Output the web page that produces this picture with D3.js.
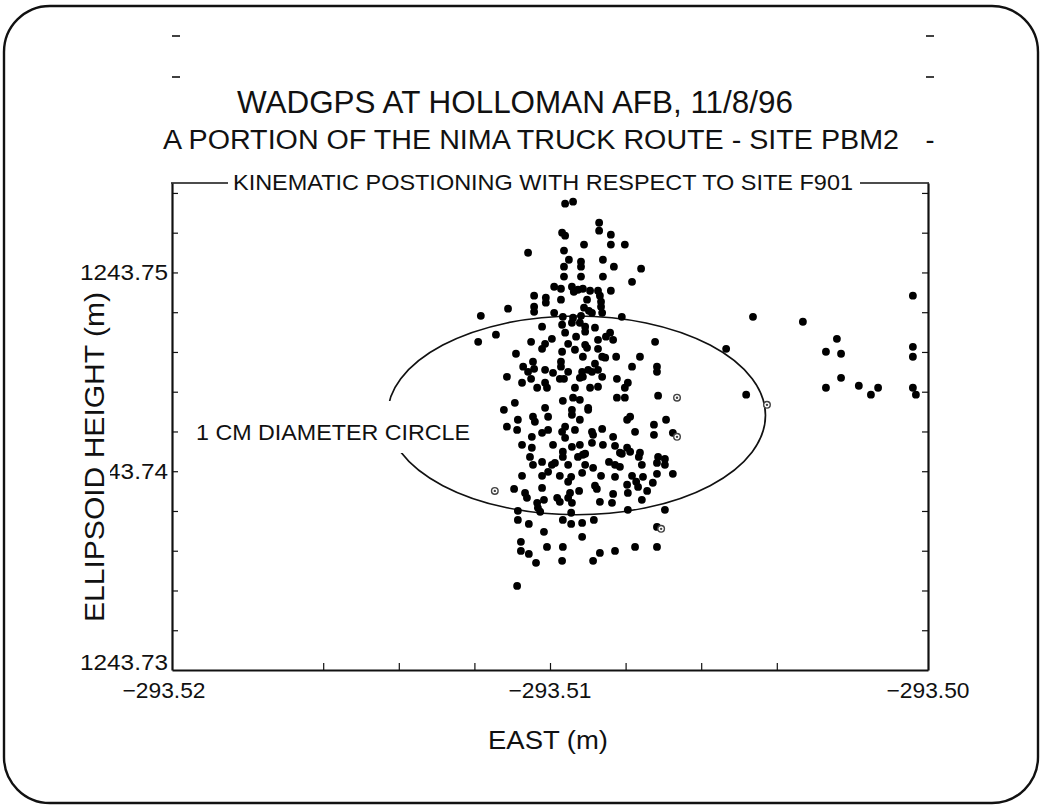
<!DOCTYPE html>
<html><head><meta charset="utf-8">
<script src="https://cdn.jsdelivr.net/npm/d3@7"></script>
<style>
body{margin:0;background:#fff}
svg{display:block}
text{font-family:"Liberation Sans Narrow","Liberation Sans",Arial,sans-serif;fill:#111}
</style>
</head><body>
<svg id="chart" width="1042" height="808"></svg>
<script>
const titleLines = [
  "WADGPS AT HOLLOMAN AFB, 11/8/96",
  "A PORTION OF THE NIMA TRUCK ROUTE - SITE PBM2",
  "KINEMATIC POSTIONING WITH RESPECT TO SITE F901"
];
const xTitle = "EAST (m)";
const yTitle = "ELLIPSOID HEIGHT (m)";
const circleLabel = "1 CM DIAMETER CIRCLE";
const xDomain = [-293.52, -293.50];
const yDomain = [1243.73, 1243.7545];
const xTicks = [-293.516, -293.514, -293.512, -293.510, -293.508, -293.506, -293.504];
const xTickLabels = [-293.52, -293.51, -293.50];
const yTicks = [1243.732, 1243.734, 1243.736, 1243.738, 1243.740, 1243.742, 1243.744, 1243.746, 1243.748, 1243.750, 1243.752, 1243.754];
const yTickLabels = [1243.73, 1243.74, 1243.75];
const circleCenter = [-293.5093, 1243.74281];
const circleDiameter = 0.01;

// [east (m), ellipsoid height (m)]
const points = [
[-293.50960,1243.75346],[-293.50939,1243.75356],[-293.50870,1243.75250],[-293.50870,1243.75210],
[-293.50968,1243.75200],[-293.50960,1243.75185],[-293.50839,1243.75190],[-293.50910,1243.75140],
[-293.50839,1243.75140],[-293.50802,1243.75140],[-293.51058,1243.75099],[-293.50963,1243.75110],
[-293.50950,1243.75064],[-293.50918,1243.75054],[-293.50918,1243.75029],[-293.50860,1243.75064],
[-293.50831,1243.75029],[-293.50759,1243.75019],[-293.50963,1243.75029],[-293.50963,1243.74979],
[-293.50918,1243.74979],[-293.50860,1243.74979],[-293.50783,1243.74953],[-293.50989,1243.74928],
[-293.50971,1243.74918],[-293.50942,1243.74928],[-293.50937,1243.74903],[-293.50926,1243.74913],
[-293.50913,1243.74918],[-293.50894,1243.74908],[-293.50873,1243.74908],[-293.50839,1243.74908],
[-293.51042,1243.74883],[-293.51011,1243.74873],[-293.51011,1243.74848],[-293.50971,1243.74863],
[-293.50902,1243.74863],[-293.50868,1243.74883],[-293.50865,1243.74853],[-293.51042,1243.74828],
[-293.51042,1243.74802],[-293.51111,1243.74818],[-293.50989,1243.74797],[-293.50910,1243.74823],
[-293.50897,1243.74807],[-293.50865,1243.74828],[-293.50862,1243.74797],[-293.50889,1243.74797],
[-293.51183,1243.74782],[-293.50810,1243.74777],[-293.50966,1243.74777],[-293.50939,1243.74772],
[-293.50918,1243.74782],
[-293.51143,1243.74687],[-293.51190,1243.74651],[-293.51021,1243.74727],[-293.50968,1243.74737],
[-293.50942,1243.74747],[-293.50921,1243.74747],[-293.51050,1243.74651],[-293.51013,1243.74641],
[-293.50995,1243.74666],[-293.51021,1243.74616],[-293.50960,1243.74697],[-293.50952,1243.74641],
[-293.50934,1243.74611],[-293.50968,1243.74601],[-293.50931,1243.74677],[-293.51090,1243.74591],
[-293.51071,1243.74526],[-293.51045,1243.74551],[-293.51058,1243.74500],[-293.51042,1243.74515],
[-293.51013,1243.74510],[-293.50992,1243.74495],[-293.50971,1243.74551],[-293.50971,1243.74526],
[-293.50952,1243.74500],[-293.50915,1243.74500],[-293.51114,1243.74475],[-293.51074,1243.74445],
[-293.51050,1243.74465],[-293.51034,1243.74420],[-293.51013,1243.74445],[-293.51008,1243.74420],
[-293.50974,1243.74465],[-293.50963,1243.74465],[-293.50934,1243.74420],[-293.50921,1243.74470],
[-293.51093,1243.74344],[-293.51122,1243.74309],[-293.50966,1243.74354],[-293.50939,1243.74370],
[-293.50921,1243.74359],[-293.51013,1243.74319],[-293.50942,1243.74309],[-293.50942,1243.74284],
[-293.51085,1243.74259],[-293.51114,1243.74224],[-293.51087,1243.74208],[-293.51045,1243.74274],
[-293.51040,1243.74249],[-293.51005,1243.74274],[-293.51005,1243.74208],[-293.51021,1243.74193],
[-293.50968,1243.74198],[-293.50960,1243.74224],[-293.50934,1243.74208],[-293.50921,1243.74259],
[-293.51048,1243.74173],[-293.51048,1243.74118],[-293.51074,1243.74133],[-293.50992,1243.74133],
[-293.50960,1243.74168],[-293.50942,1243.74123],[-293.50921,1243.74133],[-293.50966,1243.74098],
[-293.50899,1243.74309],[-293.50907,1243.74088],
[-293.50907,1243.74727],[-293.50907,1243.74702],[-293.50881,1243.74722],[-293.50873,1243.74661],
[-293.50852,1243.74677],[-293.50841,1243.74697],[-293.50833,1243.74661],[-293.50722,1243.74651],
[-293.50907,1243.74636],[-293.50902,1243.74621],[-293.50873,1243.74616],[-293.50913,1243.74576],
[-293.50862,1243.74576],[-293.50854,1243.74571],[-293.50881,1243.74541],[-293.50899,1243.74510],
[-293.50889,1243.74500],[-293.50873,1243.74510],[-293.50783,1243.74526],[-293.50762,1243.74576],
[-293.50717,1243.74526],[-293.50717,1243.74500],[-293.50913,1243.74475],[-293.50862,1243.74475],
[-293.50823,1243.74465],[-293.50794,1243.74445],[-293.50802,1243.74420],[-293.50894,1243.74420],
[-293.50873,1243.74425],[-293.50823,1243.74370],[-293.50802,1243.74370],[-293.50714,1243.74380],
[-293.50899,1243.74319],[-293.50788,1243.74274],[-293.50796,1243.74259],[-293.50693,1243.74259],
[-293.50889,1243.74198],[-293.50886,1243.74183],[-293.50862,1243.74213],[-293.50775,1243.74198],
[-293.50725,1243.74234],[-293.50725,1243.74183],[-293.50675,1243.74193],[-293.50889,1243.74143],
[-293.50833,1243.74173],[-293.50860,1243.74133],[-293.50828,1243.74128],[-293.50796,1243.74118],
[-293.50788,1243.74098],[-293.50815,1243.74093],[-293.50762,1243.74093],[-293.50825,1243.74576],
[-293.51053,1243.74072],[-293.51021,1243.74047],[-293.51045,1243.74032],[-293.50995,1243.74032],
[-293.50987,1243.74042],[-293.50966,1243.74072],[-293.50952,1243.74032],[-293.50926,1243.74072],
[-293.50915,1243.73992],[-293.51074,1243.73977],[-293.51021,1243.73977],[-293.51005,1243.73997],
[-293.50974,1243.73977],[-293.50944,1243.73972],[-293.50952,1243.73947],[-293.51095,1243.73911],
[-293.51021,1243.73916],[-293.51066,1243.73891],[-293.51061,1243.73866],[-293.50981,1243.73866],
[-293.50974,1243.73846],[-293.50947,1243.73891],[-293.50952,1243.73866],[-293.50942,1243.73841],
[-293.50923,1243.73901],[-293.51034,1243.73841],[-293.51032,1243.73816],[-293.51016,1243.73856],
[-293.51026,1243.73796],[-293.51085,1243.73801],[-293.51085,1243.73755],[-293.51056,1243.73735],
[-293.50966,1243.73755],[-293.50944,1243.73735],[-293.50944,1243.73791],[-293.50915,1243.73740],
[-293.51016,1243.73695],[-293.50915,1243.73670],[-293.51077,1243.73645],[-293.51077,1243.73599],
[-293.51056,1243.73584],[-293.51008,1243.73619],[-293.50966,1243.73619],[-293.51037,1243.73539],
[-293.50968,1243.73549],[-293.51087,1243.73423],
[-293.50913,1243.74083],[-293.50810,1243.74088],[-293.50765,1243.74072],[-293.50714,1243.74072],
[-293.50696,1243.74062],[-293.50696,1243.74032],[-293.50675,1243.73987],[-293.50717,1243.73987],
[-293.50757,1243.74032],[-293.50844,1243.74047],[-293.50828,1243.74032],[-293.50815,1243.74022],
[-293.50828,1243.73972],[-293.50865,1243.73977],[-293.50886,1243.74017],[-293.50907,1243.74032],
[-293.50783,1243.73977],[-293.50772,1243.73947],[-293.50767,1243.73921],[-293.50796,1243.73932],
[-293.50743,1243.73901],[-293.50728,1243.73942],[-293.50881,1243.73927],[-293.50876,1243.73911],
[-293.50833,1243.73886],[-293.50794,1243.73891],[-293.50868,1243.73846],[-293.50836,1243.73841],
[-293.50757,1243.73856],[-293.50884,1243.73755],[-293.50794,1243.73806],[-293.50696,1243.73806],
[-293.50717,1243.73720],[-293.50886,1243.73549],[-293.50868,1243.73589],[-293.50828,1243.73599],
[-293.50775,1243.73619],[-293.50717,1243.73619],[-293.50754,1243.73972],[-293.50717,1243.74042],
[-293.50040,1243.74883],[-293.50463,1243.74777],[-293.50331,1243.74752],[-293.50534,1243.74616],
[-293.50241,1243.74666],[-293.50270,1243.74601],[-293.50230,1243.74591],[-293.50040,1243.74626],
[-293.50040,1243.74576],[-293.50230,1243.74470],[-293.50270,1243.74420],[-293.50183,1243.74430],
[-293.50151,1243.74385],[-293.50132,1243.74420],[-293.50040,1243.74420],[-293.50032,1243.74385],
[-293.50481,1243.74385]
];
// faint, ring-like marks
const markedPoints = [
[-293.51146,1243.73901],[-293.50664,1243.74370],[-293.50664,1243.74173],[-293.50706,1243.73710],[-293.50426,1243.74334]
];

const svg = d3.select("#chart");
const W = 1042, H = 808;
const plot = {left: 172, right: 928, top: 183, bottom: 670};

// rounded page border
svg.append("rect").attr("x", 4).attr("y", 6).attr("width", W - 8).attr("height", H - 11)
  .attr("rx", 46).attr("ry", 46).attr("fill", "none").attr("stroke", "#111").attr("stroke-width", 2.4);

const x = d3.scaleLinear().domain(xDomain).range([plot.left, plot.right]);
const y = d3.scaleLinear().domain(yDomain).range([plot.bottom, plot.top]);

// stray dash marks at the top
const dashMarks = [[176, 36], [176, 77], [930, 36], [930, 77]];
svg.selectAll("line.dash").data(dashMarks).join("line").attr("class", "dash")
  .attr("x1", d => d[0] - 4).attr("x2", d => d[0] + 4).attr("y1", d => d[1]).attr("y2", d => d[1])
  .attr("stroke", "#111").attr("stroke-width", 1.6);

// titles
const titleSpecs = [
  {size: 31, y: 113, len: 556, cx: 515},
  {size: 27, y: 149, len: 736, cx: 531},
  {size: 22, y: 190, len: 620, cx: 543}
];
titleLines.forEach((t, i) => {
  const s = titleSpecs[i];
  svg.append("text").attr("x", s.cx).attr("y", s.y).attr("text-anchor", "middle")
    .attr("font-size", s.size).attr("textLength", s.len).attr("lengthAdjust", "spacingAndGlyphs").text(t);
});
svg.append("text").attr("x", 930).attr("y", 149).attr("text-anchor", "middle").attr("font-size", 27).text("-");

// axes (ticks inward)
const axG = svg.append("g");
const bottomAxis = axG.append("g").attr("transform", `translate(0,${plot.bottom})`)
  .call(d3.axisBottom(x).tickValues(xTicks).tickSizeInner(-7).tickSizeOuter(0).tickFormat(""));
const leftAxis = axG.append("g").attr("transform", `translate(${plot.left},0)`)
  .call(d3.axisLeft(y).tickValues(yTicks).tickSizeInner(-6).tickSizeOuter(0).tickFormat(""));
const rightAxis = axG.append("g").attr("transform", `translate(${plot.right},0)`)
  .call(d3.axisRight(y).tickValues(yTicks).tickSizeInner(-6).tickSizeOuter(0).tickFormat(""));
[bottomAxis, leftAxis, rightAxis].forEach(g => {
  g.select(".domain").attr("stroke", "#111").attr("stroke-width", 2.2);
  g.selectAll(".tick line").attr("stroke", "#111").attr("stroke-width", 1.2);
});
// top frame, broken by the subtitle
svg.append("line").attr("x1", plot.left - 1).attr("x2", 228).attr("y1", plot.top).attr("y2", plot.top).attr("stroke", "#111").attr("stroke-width", 1.6);
svg.append("line").attr("x1", 860).attr("x2", plot.right + 1).attr("y1", plot.top).attr("y2", plot.top).attr("stroke", "#111").attr("stroke-width", 1.6);

// tick labels
svg.selectAll("text.xl").data(xTickLabels).join("text").attr("class", "xl")
  .attr("x", d => x(d) - (d === xDomain[0] ? 8 : 0)).attr("y", 698).attr("text-anchor", "middle")
  .attr("font-family", "'Liberation Sans',Arial,sans-serif")
  .attr("font-size", 22).attr("textLength", 83).attr("lengthAdjust", "spacingAndGlyphs")
  .text(d => d3.format(".2f")(d));
svg.selectAll("text.yl").data(yTickLabels).join("text").attr("class", "yl")
  .attr("x", plot.left - 4).attr("y", d => y(d) + 8 - (d === yDomain[0] ? 8 : 0)).attr("text-anchor", "end")
  .attr("font-family", "'Liberation Sans',Arial,sans-serif")
  .attr("font-size", 22).attr("textLength", 88).attr("lengthAdjust", "spacingAndGlyphs")
  .text(d => d3.format(".2f")(d));

// axis titles (the y title sits on a white band that hides part of a tick label, as in the original)
svg.append("text").attr("x", 548).attr("y", 749).attr("text-anchor", "middle")
  .attr("font-family", "'Liberation Sans',Arial,sans-serif")
  .attr("font-size", 25).attr("textLength", 120).attr("lengthAdjust", "spacingAndGlyphs").text(xTitle);
svg.append("rect").attr("x", 74).attr("y", 286).attr("width", 36).attr("height", 342).attr("fill", "#fff");
svg.append("text").attr("transform", "translate(104,457) rotate(-90)").attr("text-anchor", "middle")
  .attr("font-family", "'Liberation Sans',Arial,sans-serif")
  .attr("font-size", 28).attr("textLength", 330).attr("lengthAdjust", "spacingAndGlyphs").text(yTitle);

// 1 cm circle (ellipse in screen space)
const cx = x(circleCenter[0]), cy = y(circleCenter[1]);
const rx = x(circleCenter[0] + circleDiameter / 2) - cx;
const ry = cy - y(circleCenter[1] + circleDiameter / 2);
svg.append("ellipse").attr("cx", cx).attr("cy", cy).attr("rx", rx).attr("ry", ry)
  .attr("fill", "none").attr("stroke", "#111").attr("stroke-width", 1.7);
svg.append("rect").attr("x", 186).attr("y", 401).attr("width", 292).attr("height", 52).attr("fill", "#fff");
svg.append("text").attr("x", 196).attr("y", 440)
  .attr("font-family", "'Liberation Sans',Arial,sans-serif")
  .attr("font-size", 22).attr("textLength", 274).attr("lengthAdjust", "spacingAndGlyphs").text(circleLabel);

// data points
svg.append("g").selectAll("circle").data(points).join("circle")
  .attr("cx", d => x(d[0])).attr("cy", d => y(d[1])).attr("r", 3.9).attr("fill", "#000");
const mk = svg.append("g").selectAll("g").data(markedPoints).join("g")
  .attr("transform", d => `translate(${x(d[0])},${y(d[1])})`);
mk.append("circle").attr("r", 3.3).attr("fill", "#fff").attr("stroke", "#444").attr("stroke-width", 1.4);
mk.append("circle").attr("r", 1.2).attr("fill", "#444");
</script>
</body></html>
